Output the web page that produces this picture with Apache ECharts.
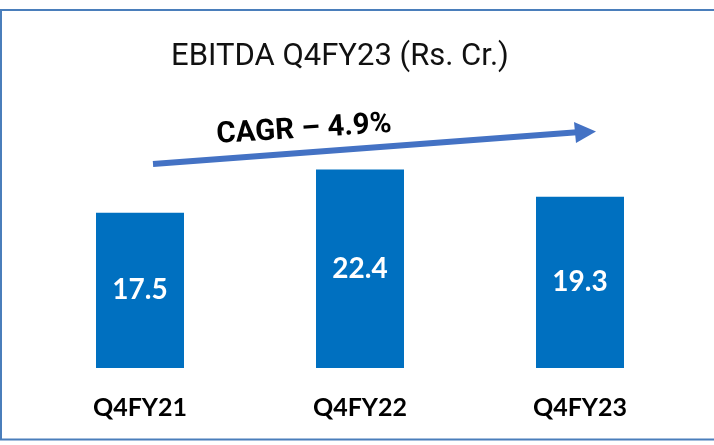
<!DOCTYPE html>
<html>
<head>
<meta charset="utf-8">
<script src="https://cdn.jsdelivr.net/npm/echarts@6/dist/echarts.min.js"></script>
<style>
html,body{margin:0;padding:0;background:#fff;}
#chart{width:714px;height:445px;}
</style>
</head>
<body>
<div id="chart"></div>
<script>
const categories = ['Q4FY21', 'Q4FY22', 'Q4FY23'];
const ebitda = [17.5, 22.4, 19.3];
const titleText = 'EBITDA Q4FY23 (Rs. Cr.)';
const cagrText = 'CAGR \u2013 4.9%';

const chart = echarts.init(document.getElementById('chart'));
chart.setOption({
  animation: false,
  backgroundColor: '#ffffff',
  grid: { left: 30, right: 24, top: 102, bottom: 77 },
  xAxis: {
    type: 'category',
    data: categories,
    axisLine: { show: false },
    axisTick: { show: false },
    axisLabel: {
      margin: 27,
      color: '#000',
      fontFamily: 'Lato',
      fontWeight: 'bold',
      fontSize: 25
    }
  },
  yAxis: {
    type: 'value',
    min: 0,
    max: 30,
    show: false,
    splitLine: { show: false }
  },
  series: [{
    type: 'bar',
    data: ebitda,
    barWidth: 88,
    itemStyle: { color: '#0070C0' },
    label: {
      show: true,
      position: 'inside',
      color: '#fff',
      fontFamily: 'Lato',
      fontWeight: 'bold',
      fontSize: 28,
      formatter: p => p.value.toFixed(1)
    }
  }],
  graphic: [
    {
      type: 'rect',
      shape: { x: 1, y: 10, width: 800, height: 429.5 },
      style: { fill: null, stroke: '#4A7EBB', lineWidth: 2 },
      silent: true
    },
    {
      type: 'text',
      x: 340, y: 57,
      style: {
        text: titleText,
        fill: '#111',
        font: '31px Roboto',
        textAlign: 'center',
        textVerticalAlign: 'middle'
      }
    },
    {
      type: 'line',
      shape: { x1: 153, y1: 164, x2: 577, y2: 132.2 },
      style: { stroke: '#4472C4', lineWidth: 6 }
    },
    {
      type: 'polygon',
      shape: { points: [[574, 122], [596, 131.5], [576, 143]] },
      style: { fill: '#4472C4' }
    },
    {
      type: 'text',
      x: 304, y: 130,
      rotation: 3.6 * Math.PI / 180,
      style: {
        text: cagrText,
        fill: '#000',
        font: 'bold 29.5px Roboto',
        textAlign: 'center',
        textVerticalAlign: 'middle'
      }
    }
  ]
});
</script>
</body>
</html>
